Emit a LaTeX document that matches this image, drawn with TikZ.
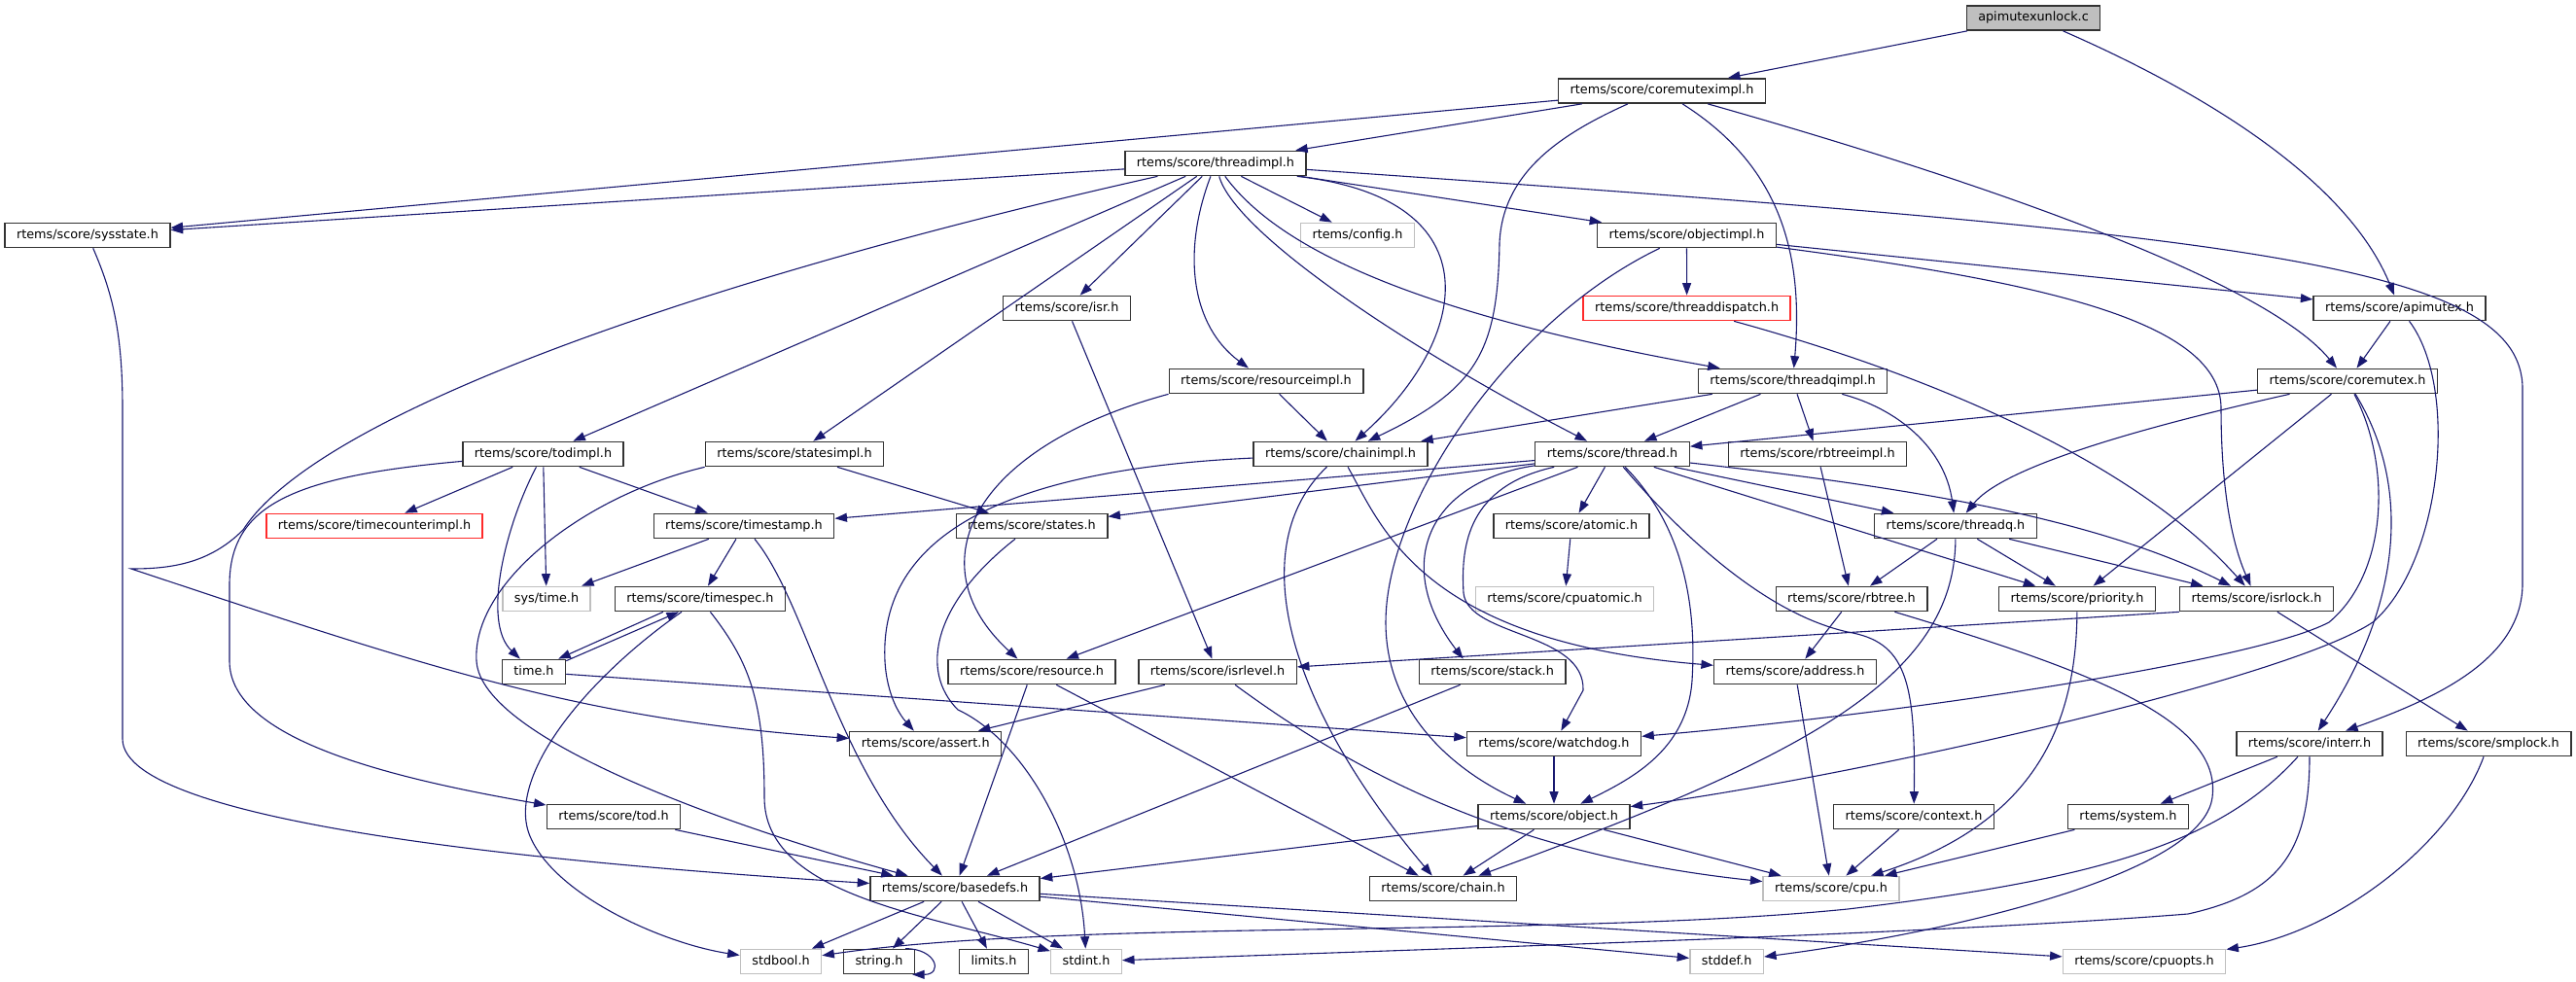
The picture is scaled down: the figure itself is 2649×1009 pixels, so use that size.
\documentclass[tikz,border=0pt]{standalone}
\usepackage{fontspec}
\setmainfont{DejaVu Sans}
\usetikzlibrary{arrows.meta}
\definecolor{mblue}{HTML}{191970}
\definecolor{grey75}{HTML}{BFBFBF}
\definecolor{nborder}{HTML}{333333}
\definecolor{redb}{HTML}{FF2A2A}
\tikzset{
  nd/.style={draw=nborder, line width=1.4pt, fill=white, inner xsep=12pt, inner ysep=0pt,
    minimum height=25.3pt, font=\fontsize{12.8pt}{15pt}\selectfont, text height=9.7pt, text depth=3.1pt},
  gn/.style={nd, draw=grey75},
  rn/.style={nd, draw=redb},
  rootn/.style={nd, fill=grey75},
  edge/.style={draw=mblue, line width=1.1pt, -{Triangle[length=12.5pt,width=9pt]}}
}
\begin{document}
\begin{tikzpicture}[x=1pt,y=-1pt]
\useasboundingbox[fill=white] (0,0) rectangle (2649,1009);
% row 0-4
\node[rootn] (apimutexunlock) at (2091,18.5) {apimutexunlock.c};
\node[nd] (coremuteximpl) at (1709,93.5) {rtems/score/coremuteximpl.h};
\node[nd] (threadimpl) at (1250,168) {rtems/score/threadimpl.h};
\node[nd] (sysstate) at (90,242) {rtems/score/sysstate.h};
\node[gn] (config) at (1396,242) {rtems/config.h};
\node[nd] (objectimpl) at (1734.5,242) {rtems/score/objectimpl.h};
\node[nd] (isr) at (1097,317) {rtems/score/isr.h};
\node[rn] (threaddispatch) at (1734.6,317) {rtems/score/threaddispatch.h};
\node[nd] (apimutex) at (2467.5,317) {rtems/score/apimutex.h};
% row 5-6
\node[nd] (resourceimpl) at (1302,392) {rtems/score/resourceimpl.h};
\node[nd] (threadqimpl) at (1843.5,392) {rtems/score/threadqimpl.h};
\node[nd] (coremutex) at (2414,392) {rtems/score/coremutex.h};
\node[nd] (todimpl) at (558.5,467) {rtems/score/todimpl.h};
\node[nd] (statesimpl) at (817,467) {rtems/score/statesimpl.h};
\node[nd] (chainimpl) at (1378.5,467) {rtems/score/chainimpl.h};
\node[nd] (thread) at (1658,467) {rtems/score/thread.h};
\node[nd] (rbtreeimpl) at (1869,467) {rtems/score/rbtreeimpl.h};
% row 7-8
\node[rn] (timecounterimpl) at (385,541) {rtems/score/timecounterimpl.h};
\node[nd] (timestamp) at (765,541) {rtems/score/timestamp.h};
\node[nd] (states) at (1061,541) {rtems/score/states.h};
\node[nd] (atomic) at (1616,541) {rtems/score/atomic.h};
\node[nd] (threadq) at (2011,541) {rtems/score/threadq.h};
\node[gn] (systime) at (562,616) {sys/time.h};
\node[nd] (timespec) at (720,616) {rtems/score/timespec.h};
\node[gn] (cpuatomic) at (1609,616) {rtems/score/cpuatomic.h};
\node[nd] (rbtree) at (1904,616) {rtems/score/rbtree.h};
\node[nd] (priority) at (2136,616) {rtems/score/priority.h};
\node[nd] (isrlock) at (2320.5,616) {rtems/score/isrlock.h};
% row 9-10
\node[nd] (timeh) at (549,691) {time.h};
\node[nd] (resource) at (1061,691) {rtems/score/resource.h};
\node[nd] (isrlevel) at (1252,691) {rtems/score/isrlevel.h};
\node[nd] (stack) at (1534.6,691) {rtems/score/stack.h};
\node[nd] (address) at (1846,691) {rtems/score/address.h};
\node[nd] (assert) at (951.7,765) {rtems/score/assert.h};
\node[nd] (watchdog) at (1598,765) {rtems/score/watchdog.h};
\node[nd] (interr) at (2375,765) {rtems/score/interr.h};
\node[nd] (smplock) at (2559,765) {rtems/score/smplock.h};
% row 11-13
\node[nd] (tod) at (631,840) {rtems/score/tod.h};
\node[nd] (object) at (1598,840) {rtems/score/object.h};
\node[nd] (context) at (1968,840) {rtems/score/context.h};
\node[nd] (system) at (2188.5,840) {rtems/system.h};
\node[nd] (basedefs) at (982,914) {rtems/score/basedefs.h};
\node[nd] (chain) at (1484,914) {rtems/score/chain.h};
\node[gn] (cpu) at (1883,914) {rtems/score/cpu.h};
\node[gn] (stdbool) at (803,989) {stdbool.h};
\node[nd] (string) at (904,989) {string.h};
\node[nd] (limits) at (1022,989) {limits.h};
\node[gn] (stdint) at (1117,989) {stdint.h};
\node[gn] (stddef) at (1775.6,989) {stddef.h};
\node[gn] (cpuopts) at (2205,989) {rtems/score/cpuopts.h};

% apimutexunlock.c
\draw[edge] (apimutexunlock) -- (coremuteximpl);
\draw[edge] (apimutexunlock) .. controls (2300,110) and (2420,200) .. (apimutex);
% coremuteximpl
\draw[edge] (coremuteximpl) -- (sysstate);
\draw[edge] (coremuteximpl) -- (threadimpl);
\draw[edge] ([xshift=-35pt]coremuteximpl.south) .. controls (1600,140) and (1545,180) .. (1542,250) .. controls (1540,360) and (1520,400) .. (chainimpl);
\draw[edge] (coremuteximpl) .. controls (1830,170) and (1855,260) .. (threadqimpl);
\draw[edge] (coremuteximpl) .. controls (2050,190) and (2330,290) .. (coremutex);
% threadimpl
\draw[edge] (threadimpl) -- (sysstate);
\draw[edge] (threadimpl) -- (todimpl);
\draw[edge] (threadimpl) -- (statesimpl);
\draw[edge] (threadimpl) -- (isr);
\draw[edge] (threadimpl) -- (config);
\draw[edge] (threadimpl) -- (objectimpl);
\draw[edge] (threadimpl) .. controls (1215,260) and (1225,335) .. (resourceimpl);
\draw[edge] ([xshift=-10pt]threadimpl.south east) .. controls (1540,205) and (1510,350) .. (chainimpl);
\draw[edge] (threadimpl) .. controls (1270,240) and (1450,360) .. (thread);
\draw[edge] (threadimpl) .. controls (1310,250) and (1440,320) .. (threadqimpl);
\draw[edge] (threadimpl) .. controls (2300,240) and (2594,270) .. (2594,400) -- (2594,600) .. controls (2594,680) and (2500,720) .. (interr);
\draw[edge] (threadimpl) .. controls (750,280) and (330,420) .. (250,545) .. controls (215,580) and (175,585) .. (135,585) .. controls (450,690) and (600,740) .. (assert);
% objectimpl
\draw[edge] (objectimpl) -- (threaddispatch);
\draw[edge] (objectimpl) .. controls (1551,330) and (1425,520) .. (1425,640) .. controls (1425,730) and (1490,790) .. (object);
\draw[edge] (objectimpl) -- (apimutex);
\draw[edge] (objectimpl) .. controls (2100,290) and (2284,330) .. (2284,420) .. controls (2284,520) and (2300,570) .. (isrlock);
% threaddispatch, isr
\draw[edge] (threaddispatch) .. controls (2000,390) and (2200,480) .. (isrlock);
\draw[edge] (isr) -- (isrlevel);
% apimutex
\draw[edge] (apimutex) -- (coremutex);
\draw[edge] (apimutex) .. controls (2530,400) and (2510,580) .. (2440,640) .. controls (2350,700) and (1900,800) .. (object);
% resourceimpl
\draw[edge] (resourceimpl) -- (chainimpl);
\draw[edge] (resourceimpl.south west) .. controls (1000,460) and (940,580) .. (resource);
% threadqimpl
\draw[edge] (threadqimpl) -- (thread);
\draw[edge] (threadqimpl) -- (chainimpl);
\draw[edge] (threadqimpl) -- (rbtreeimpl);
\draw[edge] (threadqimpl) .. controls (1950,420) and (2000,460) .. (threadq);
% coremutex
\draw[edge] (coremutex) -- (thread);
\draw[edge] (coremutex) .. controls (2200,440) and (2060,480) .. (threadq);
\draw[edge] (coremutex) -- (priority);
\draw[edge] (coremutex) .. controls (2460,480) and (2455,590) .. (2395,640) .. controls (2320,680) and (1950,735) .. (watchdog);
\draw[edge] (coremutex) .. controls (2480,500) and (2470,620) .. (interr);
% thread
\draw[edge] (thread) -- (timestamp);
\draw[edge] (thread) -- (states);
\draw[edge] (thread) -- (resource);
\draw[edge] (thread) .. controls (1470,495) and (1430,580) .. ([xshift=-30pt]stack.north);
\draw[edge] (thread) .. controls (1510,500) and (1502,560) .. (1505,610) .. controls (1510,655) and (1630,650) .. (1628,710) -- (watchdog);
\draw[edge] (thread) .. controls (1730,540) and (1745,620) .. (1740,700) .. controls (1735,770) and (1680,800) .. (object);
\draw[edge] (thread) -- (atomic);
\draw[edge] (thread) -- (threadq);
\draw[edge] (thread) .. controls (1950,500) and (2150,530) .. (isrlock);
\draw[edge] (thread) -- (priority);
\draw[edge] (thread) .. controls (1720,540) and (1810,630) .. (1900,650) .. controls (1960,660) and (1970,700) .. (context);
% chainimpl
\draw[edge] (chainimpl) .. controls (1280,560) and (1320,720) .. (chain);
\draw[edge] (chainimpl) .. controls (980,485) and (905,580) .. (910,680) .. controls (912,715) and (925,735) .. (assert);
\draw[edge] (chainimpl) .. controls (1420,540) and (1460,660) .. (address);
% rbtreeimpl
\draw[edge] (rbtreeimpl) -- (rbtree);
% todimpl
\draw[edge] (todimpl) -- (timecounterimpl);
\draw[edge] (todimpl) -- (timestamp);
\draw[edge] (todimpl) -- (systime);
\draw[edge] (todimpl) .. controls (520,540) and (495,640) .. (timeh);
\draw[edge] (todimpl) .. controls (300,490) and (237,520) .. (236,600) -- (236,680) .. controls (236,760) and (400,800) .. (tod);
% statesimpl
\draw[edge] (statesimpl) -- (states);
\draw[edge] (statesimpl.south west) .. controls (600,510) and (485,600) .. (490,680) .. controls (495,760) and (750,850) .. (basedefs);
% timestamp
\draw[edge] (timestamp) -- (systime);
\draw[edge] (timestamp) -- (timespec);
\draw[edge] (timestamp) .. controls (830,620) and (860,790) .. (basedefs);
% timespec and time.h
\draw[edge] ([xshift=-38pt]timespec.south) -- ([xshift=-8pt]timeh.north east);
\draw[edge] ([yshift=-2pt]timeh.north east) -- ([xshift=-22pt]timespec.south);
\draw[edge] (timespec) .. controls (600,700) and (520,800) .. (545,860) .. controls (570,920) and (680,970) .. (stdbool);
\draw[edge] (timespec) .. controls (770,680) and (786,720) .. (786,820) .. controls (786,920) and (950,940) .. (stdint);
\draw[edge] (timeh) -- (watchdog);
% resource, isrlevel, stack, address, states
\draw[edge] (resource) -- (basedefs);
\draw[edge] (resource) -- (chain);
\draw[edge] (isrlevel) -- (assert);
\draw[edge] (isrlevel) .. controls (1400,800) and (1560,880) .. (cpu);
\draw[edge] (stack) -- (basedefs);
\draw[edge] (address) -- (cpu);
\draw[edge] (states) .. controls (960,620) and (945,690) .. (985,730) .. controls (1050,760) and (1110,860) .. (stdint);
% rbtree
\draw[edge] (rbtree) -- (address);
\draw[edge] (rbtree) .. controls (2150,690) and (2285,740) .. (2275,820) .. controls (2265,900) and (2000,960) .. (stddef);
% threadq
\draw[edge] (threadq) -- (rbtree);
\draw[edge] (threadq) -- (priority);
\draw[edge] (threadq) -- (isrlock);
\draw[edge] (threadq) .. controls (2010,700) and (1850,780) .. (chain);
% priority, atomic, isrlock
\draw[edge] (priority) .. controls (2135,760) and (2080,850) .. (cpu);
\draw[edge] (atomic) -- (cpuatomic);
\draw[edge] (isrlock.south west) -- (isrlevel);
\draw[edge] (isrlock) -- (smplock);
% watchdog, object, context, system
\draw[edge] (watchdog) -- (object);
\draw[edge] (object) -- (basedefs);
\draw[edge] (object) -- (chain);
\draw[edge] (object) -- (cpu);
\draw[edge] (context) -- (cpu);
\draw[edge] (system) -- (cpu);
% interr
\draw[edge] (interr) -- (system);
\draw[edge] (interr) .. controls (2280,870) and (2150,905) .. (1900,935) .. controls (1600,965) and (1100,945) .. (stdbool);
\draw[edge] (interr) .. controls (2375,880) and (2340,920) .. (2250,940) .. controls (2000,960) and (1500,975) .. (stdint);
% smplock, tod, sysstate
\draw[edge] (smplock) .. controls (2520,870) and (2400,960) .. (cpuopts);
\draw[edge] (tod) -- (basedefs);
\draw[edge] (sysstate) .. controls (115,300) and (126,340) .. (126,420) -- (126,760) .. controls (126,850) and (600,890) .. (basedefs);
% basedefs
\draw[edge] (basedefs) -- (stdbool);
\draw[edge] (basedefs) -- (string);
\draw[edge] (basedefs) -- (limits);
\draw[edge] (basedefs) -- (stdint);
\draw[edge] (basedefs) -- (stddef);
\draw[edge] (basedefs) -- (cpuopts);
\draw[edge] ([xshift=-10pt]string.north east) .. controls +(32,0) and +(32,0) .. ([xshift=-3pt]string.south east);
\end{tikzpicture}
\end{document}
